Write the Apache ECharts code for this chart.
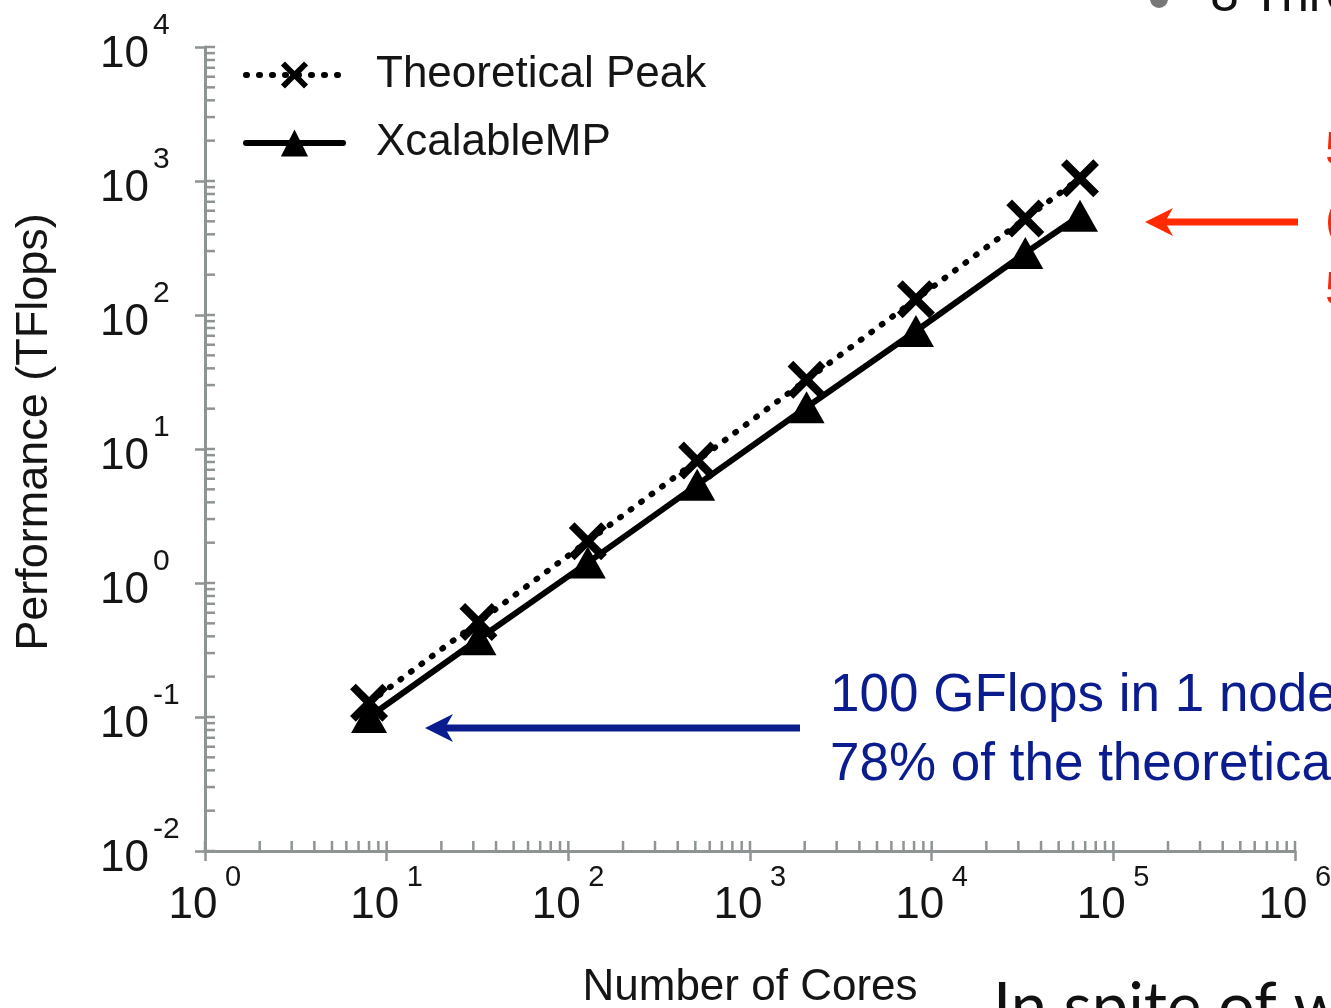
<!DOCTYPE html>
<html>
<head>
<meta charset="utf-8">
<script src="https://cdn.jsdelivr.net/npm/echarts@6/dist/echarts.min.js"></script>
<style>
  html, body { margin: 0; padding: 0; background: #fff; }
  #main { width: 1331px; height: 1008px; }
</style>
</head>
<body>
<div id="main"></div>
<script>
var chartDom = document.getElementById('main');
var myChart = echarts.init(chartDom);

// data (cores vs TFlops)
const cores = [8, 32, 128, 512, 2048, 8192, 32768, 65536];
const peakTF = [0.128, 0.512, 2.05, 8.19, 32.8, 131, 524, 1049];
const xmpTF = [0.10, 0.38, 1.42, 5.4, 20.5, 76, 290, 550];
const seriesNames = ['Theoretical Peak', 'XcalableMP'];

const axisColor = '#8e9393';
const textColor = '#151515';
const font = 'Liberation Sans, Arial, sans-serif';

// log ticks 1..9 x 10^e, flag 1 = major
function logTicks(lo, hi) {
    const out = [];
    for (let e = lo; e < hi; e++) {
        for (let m = 1; m < 10; m++) out.push([m * Math.pow(10, e), m === 1 ? 1 : 0]);
    }
    out.push([Math.pow(10, hi), 1]);
    return out;
}
const yTicks = logTicks(-2, 4).map(t => [1, t[0], t[1]]);
const xTicks = logTicks(0, 6).map(t => [t[0], 0.01, t[1]]);

const expOf = v => String(Math.round(Math.log10(v)));
const hidden = { show: false };

const xSymbol = 'path://M3,0 L10,7 L17,0 L20,3 L13,10 L20,17 L17,20 L10,13 L3,20 L0,17 L7,10 L0,3 Z';

var option = {
    backgroundColor: '#fff',
    animation: false,
    grid: { left: 205, right: 36, top: 47, bottom: 157, outerBoundsMode: 'none', containLabel: false },
    legend: {
        data: seriesNames,
        orient: 'vertical',
        left: 238,
        top: 48,
        itemWidth: 97,
        itemHeight: 34,
        itemGap: 24,
        lineStyle: { width: 6, cap: 'round' },
        textStyle: { fontSize: 44, fontFamily: font, color: textColor, padding: [0, 0, 0, 28] }
    },
    xAxis: [
        {
            type: 'log', logBase: 10, min: 1, max: 1000000, interval: 1,
            name: 'Number of Cores',
            nameLocation: 'middle',
            nameGap: 115,
            nameTextStyle: { fontSize: 44, fontFamily: font, color: textColor },
            axisLine: { lineStyle: { color: axisColor, width: 3 } },
            axisTick: { length: 10, lineStyle: { color: axisColor, width: 2.5 } },
            axisLabel: { margin: 33, formatter: () => '10', fontSize: 44, fontFamily: font,
                color: textColor, padding: [0, 24, 0, 0] },
            splitLine: hidden
        },
        {
            // exponents of the x tick labels
            type: 'log', logBase: 10, min: 1, max: 1000000, interval: 1,
            position: 'bottom',
            axisLine: hidden, axisTick: hidden, splitLine: hidden,
            axisLabel: { margin: 12, formatter: expOf, fontSize: 29, fontFamily: font,
                color: textColor, align: 'left', padding: [0, 0, 0, 20] }
        }
    ],
    yAxis: [
        {
            type: 'log', logBase: 10, min: 0.01, max: 10000, interval: 1,
            name: 'Performance (TFlops)',
            nameLocation: 'middle',
            nameGap: 148,
            nameTextStyle: { fontSize: 45, fontFamily: font, color: textColor, padding: [0, 0, 0, 34] },
            axisLine: { lineStyle: { color: axisColor, width: 3 } },
            axisTick: { length: 10, lineStyle: { color: axisColor, width: 2.5 } },
            axisLabel: { margin: 56, formatter: () => '10', fontSize: 44, fontFamily: font,
                color: textColor, verticalAlign: 'top', lineHeight: 16 },
            splitLine: hidden
        },
        {
            // exponents of the y tick labels
            type: 'log', logBase: 10, min: 0.01, max: 10000, interval: 1,
            position: 'left',
            axisLine: hidden, axisTick: hidden, splitLine: hidden,
            axisLabel: { margin: 52, formatter: expOf, fontSize: 30, fontFamily: font,
                color: textColor, align: 'left', verticalAlign: 'bottom', lineHeight: 42 }
        }
    ],
    series: [
        {
            type: 'custom',
            silent: true,
            clip: false,
            data: yTicks,
            renderItem: function (params, api) {
                const p = api.coord([api.value(0), api.value(1)]);
                return { type: 'line', shape: { x1: p[0], y1: p[1], x2: p[0] + 10, y2: p[1] },
                    style: { stroke: axisColor, lineWidth: 2.5 } };
            }
        },
        {
            type: 'custom',
            silent: true,
            clip: false,
            data: xTicks,
            renderItem: function (params, api) {
                const p = api.coord([api.value(0), api.value(1)]);
                return { type: 'line', shape: { x1: p[0], y1: p[1], x2: p[0], y2: p[1] - 10 },
                    style: { stroke: axisColor, lineWidth: 2.5 } };
            }
        },
        {
            name: 'XcalableMP',
            type: 'line',
            data: cores.map((c, i) => [c, xmpTF[i]]),
            symbol: 'triangle',
            symbolSize: [36, 32],
            itemStyle: { color: '#000' },
            lineStyle: { color: '#000', width: 6 },
            z: 3
        },
        {
            name: 'Theoretical Peak',
            type: 'line',
            data: cores.map((c, i) => [c, peakTF[i]]),
            symbol: xSymbol,
            symbolSize: 38,
            itemStyle: { color: '#000' },
            lineStyle: { color: '#000', width: 6, type: [1, 12], cap: 'round' },
            z: 4
        }
    ],
    graphic: [
        // red arrow + text
        { type: 'line', shape: { x1: 1165, y1: 222, x2: 1298, y2: 222 }, style: { stroke: '#ff2a00', lineWidth: 7 } },
        { type: 'polygon', shape: { points: [[1145, 222], [1173, 208], [1165, 222], [1173, 236]] }, style: { fill: '#ff2a00' } },
        { type: 'text', left: 1325, top: 128, style: { text: '5', fontSize: 48, fontFamily: font, fill: '#ff2600' } },
        { type: 'text', left: 1325, top: 198, style: { text: '(', fontSize: 48, fontFamily: font, fill: '#ff2600' } },
        { type: 'text', left: 1325, top: 268, style: { text: '5', fontSize: 48, fontFamily: font, fill: '#ff2600' } },
        // blue arrow + text
        { type: 'line', shape: { x1: 445, y1: 728, x2: 800, y2: 728 }, style: { stroke: '#0b1c8f', lineWidth: 7 } },
        { type: 'polygon', shape: { points: [[425, 728], [453, 714], [445, 728], [453, 742]] }, style: { fill: '#0b1c8f' } },
        { type: 'text', x: 830, y: 670, style: { text: '100 GFlops in 1 node', fontSize: 53, fontFamily: font, fill: '#0b1c8f' } },
        { type: 'text', x: 830, y: 739, style: { text: '78% of the theoretical', fontSize: 53, fontFamily: font, fill: '#0b1c8f' } },
        // slide fragments around the chart
        { type: 'circle', shape: { cx: 1159, cy: -1, r: 9 }, style: { fill: '#777' } },
        { type: 'text', x: 1210, y: -30, style: { text: '8 Threads', fontSize: 50, fontFamily: 'Lato, sans-serif', fill: '#111' } },
        { type: 'text', x: 993, y: 976, style: { text: 'In spite of work', fontSize: 65, fontFamily: 'Lato, sans-serif', fill: '#111' } }
    ]
};

myChart.setOption(option);
</script>
</body>
</html>
